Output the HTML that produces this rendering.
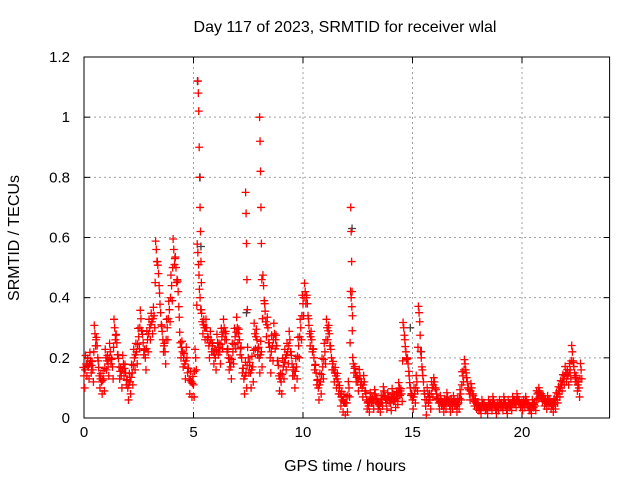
<!DOCTYPE html>
<html><head><meta charset="utf-8"><style>
body{margin:0;background:#fff;}
svg{display:block;font-family:"Liberation Sans",sans-serif;}
</style></head><body>
<svg id="chart" width="640" height="480" viewBox="0 0 640 480" xmlns="http://www.w3.org/2000/svg">
<rect x="0" y="0" width="640" height="480" fill="#fff"/>
<g id="grid"></g>
<g id="axes"></g>
<g id="marks"></g>
<text x="345" y="32" font-size="16" text-anchor="middle">Day 117 of 2023, SRMTID for receiver wlal</text>
<text x="345" y="471" font-size="16" text-anchor="middle">GPS time / hours</text>
<text x="19" y="238" font-size="16" text-anchor="middle" transform="rotate(-90 19 238)">SRMTID / TECUs</text>
</svg>
<script>
const xTicks=[0,5,10,15,20];
const yTicks=[0,0.2,0.4,0.6,0.8,1,1.2];
const yTickLabels=["0","0.2","0.4","0.6","0.8","1","1.2"];
const startHour=0, stepHour=0.1;
const srmtidValues=[
0.14,0.18,0.17,0.19,0.16,0.28,0.24,0.14,0.12,0.13,
0.2,0.18,0.22,0.17,0.3,0.25,0.17,0.14,0.18,0.15,
0.1,0.12,0.15,0.2,0.22,0.27,0.33,0.25,0.2,0.26,
0.3,0.32,0.34,0.56,0.48,0.35,0.26,0.22,0.3,0.36,
0.44,0.56,0.5,0.42,0.25,0.22,0.18,0.2,0.13,0.12,
0.11,0.2,0.55,0.4,0.32,0.3,0.3,0.24,0.26,0.22,
0.2,0.25,0.22,0.27,0.3,0.26,0.2,0.17,0.22,0.27,
0.3,0.26,0.2,0.13,0.15,0.2,0.15,0.17,0.28,0.26,
0.2,0.22,0.44,0.32,0.3,0.2,0.24,0.28,0.24,0.14,
0.12,0.17,0.2,0.22,0.26,0.18,0.14,0.17,0.24,0.3,
0.38,0.42,0.38,0.28,0.26,0.2,0.15,0.1,0.12,0.17,
0.22,0.3,0.28,0.2,0.16,0.14,0.12,0.08,0.06,0.05,
0.05,0.1,0.4,0.18,0.15,0.12,0.14,0.1,0.12,0.06,
0.04,0.07,0.05,0.08,0.05,0.04,0.06,0.09,0.05,0.07,
0.05,0.08,0.06,0.07,0.1,0.08,0.3,0.22,0.18,0.1,
0.06,0.08,0.12,0.35,0.2,0.12,0.04,0.08,0.06,0.1,
0.12,0.08,0.05,0.06,0.04,0.05,0.07,0.04,0.05,0.06,
0.04,0.05,0.08,0.14,0.18,0.12,0.08,0.1,0.06,0.05,
0.04,0.03,0.05,0.04,0.03,0.05,0.04,0.06,0.03,0.04,
0.05,0.04,0.06,0.03,0.05,0.04,0.06,0.05,0.07,0.05,
0.04,0.05,0.06,0.04,0.03,0.05,0.04,0.08,0.09,0.07,
0.06,0.05,0.06,0.05,0.04,0.05,0.07,0.09,0.11,0.13,
0.15,0.14,0.16,0.22,0.15,0.12,0.1,0.16];
// approximate scatter half-width per hour (hours 0..22)
const hourlySpread=[0.04,0.04,0.04,0.04,0.05,0.04,0.04,0.05,0.05,0.04,0.04,0.04,0.03,0.02,0.025,0.03,0.02,0.02,0.015,0.015,0.015,0.02,0.03];
const spikeTimes=[5.2,5.22,5.24,5.26,5.28,5.3,5.32,5.34,5.36,7.38,7.4,7.42,7.44,7.46,8.02,8.04,8.06,8.08,8.1,8.12,12.18,12.2,12.22,12.24,12.26];
const spikeValues=[1.12,1.08,1.02,0.9,0.8,0.7,0.62,0.52,0.45,0.75,0.68,0.58,0.46,0.36,1.0,0.92,0.82,0.7,0.58,0.46,0.7,0.62,0.52,0.42,0.34];
const grayTimes=[5.18,5.3,5.34,7.42,12.24,14.9,15.4];
const grayValues=[1.12,0.8,0.57,0.35,0.63,0.3,0.22];

const L=84,R=609.6,T=57,B=418,xMax=24,yMax=1.2;
const xs=h=>L+(R-L)*h/xMax, ys=v=>B-(B-T)*v/yMax;
const NS="http://www.w3.org/2000/svg";
function mk(tag,attrs,parent){const e=document.createElementNS(NS,tag);for(const k in attrs)e.setAttribute(k,attrs[k]);parent.appendChild(e);return e;}
const grid=document.getElementById('grid'),axes=document.getElementById('axes'),marks=document.getElementById('marks');
xTicks.forEach(t=>{const x=xs(t);
 if(t>0){const g=mk('line',{x1:x,y1:T,x2:x,y2:B,stroke:'#a0a0a0','stroke-dasharray':'2,3'},grid);
 
 }
 mk('line',{x1:x,y1:B,x2:x,y2:B-6,stroke:'#000'},axes);
 mk('line',{x1:x,y1:T,x2:x,y2:T+6,stroke:'#000'},axes);
 const tx=mk('text',{x:x,y:B+19,'font-size':15,'text-anchor':'middle'},axes);tx.textContent=t;
 
 
});
yTicks.forEach((t,i)=>{const y=ys(t);
 if(t>0&&t<yMax){const g=mk('line',{x1:L,y1:y,x2:R,y2:y,stroke:'#a0a0a0','stroke-dasharray':'2,3'},grid);
 
 }
 mk('line',{x1:L,y1:y,x2:L+6,y2:y,stroke:'#000'},axes);
 mk('line',{x1:R,y1:y,x2:R-6,y2:y,stroke:'#000'},axes);
 const tx=mk('text',{x:L-14,y:y+5,'font-size':15,'text-anchor':'end'},axes);tx.textContent=yTickLabels[i];
 
 
});
const frame=mk('rect',{x:L,y:T,width:R-L,height:B-T,fill:'none',stroke:'#000'},axes);


function plus(h,v,col){const x=xs(h),y=ys(v);
 const p=mk('path',{d:`M${x-4},${y}H${x+4}M${x},${y-4}V${y+4}`,stroke:col,'stroke-width':1.3,fill:'none'},marks);
 return p;}
grayTimes.forEach((h,i)=>{const p=plus(h,grayValues[i],'#404040');
 
 });
srmtidValues.forEach((v,i)=>{const h=startHour+i*stepHour;
 const s=hourlySpread[Math.min(hourlySpread.length-1,Math.floor(h))];
 let p=plus(h,v,'#ff0000');
 
 
 const a=plus(h+0.03,Math.max(0.01,v-s),'#ff0000');
 
 
 const b=plus(h-0.03,v+s*0.7,'#ff0000');
 
 
 if(i>0){const pv=srmtidValues[i-1];const q=plus(h-0.05,(v+pv)/2,'#ff0000');
 
 }
});
spikeTimes.forEach((h,i)=>{const p=plus(h,spikeValues[i],'#ff0000');
 
 });
</script>
</body></html>
